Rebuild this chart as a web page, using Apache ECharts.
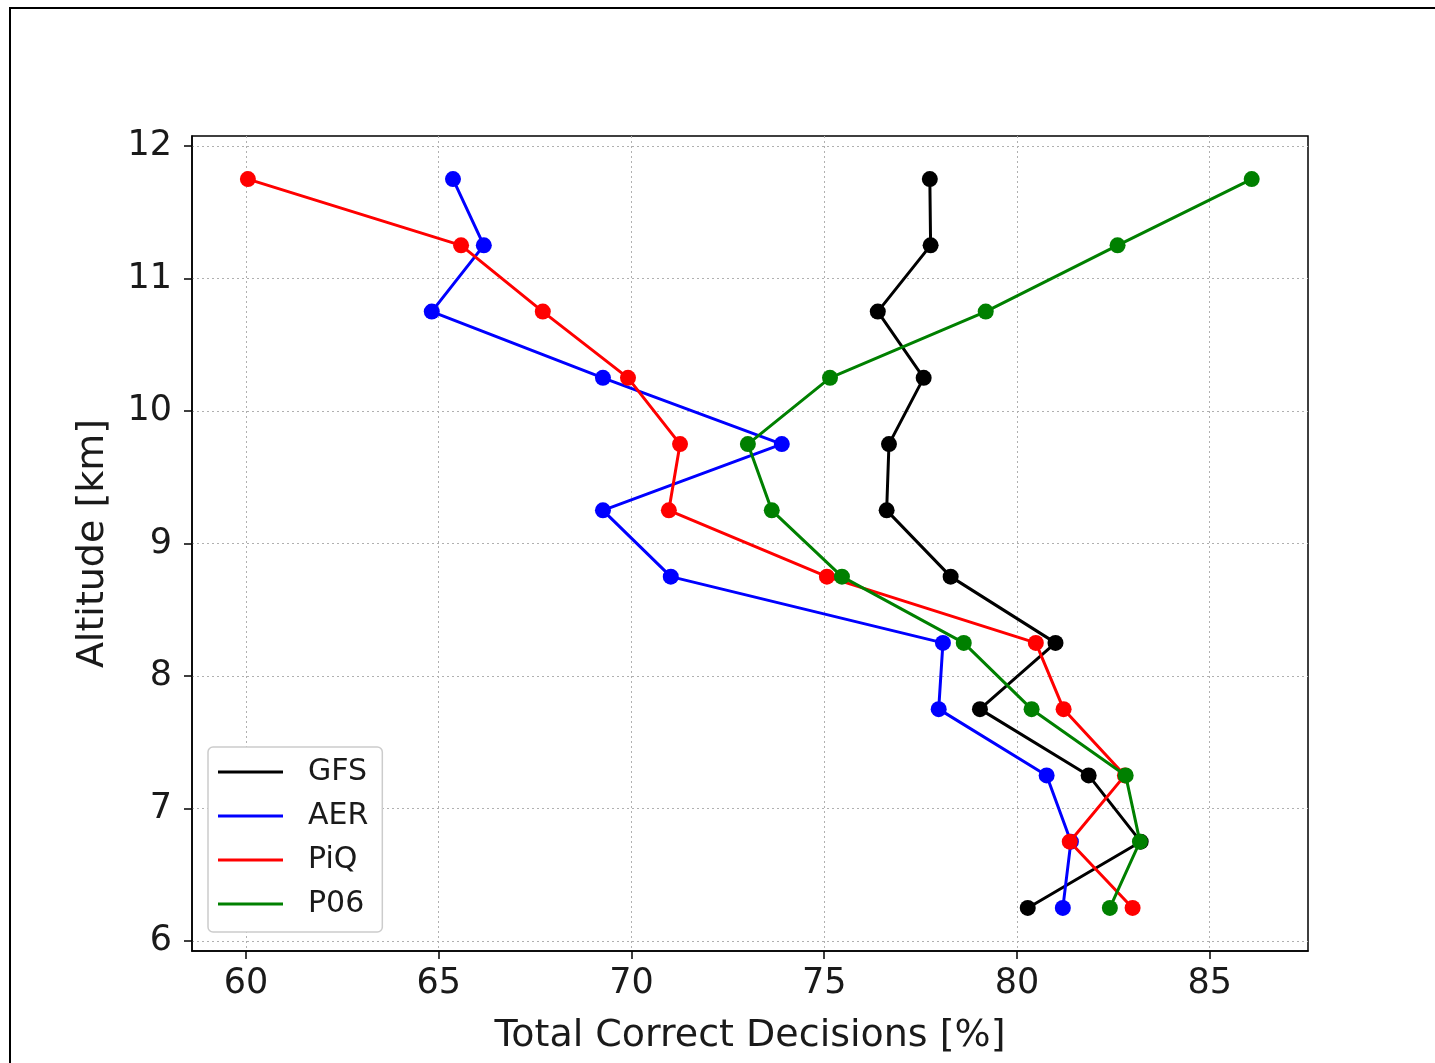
<!DOCTYPE html>
<html>
<head>
<meta charset="utf-8">
<script src="https://cdn.jsdelivr.net/npm/echarts@6/dist/echarts.min.js"></script>
<style>
  html, body { margin: 0; padding: 0; background: #fff; }
  #chart { width: 1435px; height: 1063px; }
</style>
</head>
<body>
<div id="chart"></div>
<script>
// altitude levels (km), top to bottom
var altitudes = [11.75, 11.25, 10.75, 10.25, 9.75, 9.25, 8.75, 8.25, 7.75, 7.25, 6.75, 6.25];

// total correct decisions [%] per model
var gfs = [77.74, 77.76, 76.39, 77.58, 76.68, 76.62, 78.28, 81.0, 79.04, 81.86, 83.21, 80.28];
var aer = [65.37, 66.17, 64.82, 69.26, 73.9, 69.26, 71.02, 78.08, 77.97, 80.77, 81.4, 81.19];
var piq = [60.05, 65.58, 67.7, 69.91, 71.26, 70.97, 75.07, 80.49, 81.21, 82.8, 81.37, 83.0];
var p06 = [86.09, 82.61, 79.19, 75.15, 73.02, 73.64, 75.46, 78.62, 80.38, 82.82, 83.19, 82.41];

var xTicks = [60, 65, 70, 75, 80, 85];
var yTicks = [6, 7, 8, 9, 10, 11, 12];

var seriesNames = ['GFS', 'AER', 'PiQ', 'P06'];
var seriesColors = ['#000000', '#0000ff', '#ff0000', '#008000'];
var seriesValues = [gfs, aer, piq, p06];

var font = 'DejaVu Sans';

function pairs(vals) {
  return vals.map(function (v, i) { return [v, altitudes[i]]; });
}

var chart = echarts.init(document.getElementById('chart'));

chart.setOption({
  animation: false,
  backgroundColor: '#fff',
  graphic: [{
    type: 'rect',
    shape: { x: 10, y: 8, width: 1440, height: 1070 },
    style: { fill: 'none', stroke: '#000', lineWidth: 2 },
    silent: true
  }],
  grid: {
    left: 192, top: 136, right: 127, bottom: 112,
    outerBoundsMode: 'none',
    containLabel: false,
    show: true, borderColor: '#000', borderWidth: 1.5, backgroundColor: 'transparent'
  },
  legend: {
    orient: 'vertical',
    left: 208, top: 747,
    padding: [10, 14, 13, 10],
    backgroundColor: '#fff',
    borderColor: '#cccccc',
    borderWidth: 1.5,
    borderRadius: 5,
    itemWidth: 65,
    itemHeight: 3,
    itemGap: 14,
    icon: 'rect',
    data: seriesNames,
    textStyle: { fontFamily: font, fontSize: 30, color: '#1a1a1a', lineHeight: 30, padding: [0, 0, 0, 20] }
  },
  xAxis: {
    type: 'value',
    min: 58.6, max: 87.55,
    name: 'Total Correct Decisions [%]',
    nameLocation: 'middle',
    nameGap: 66,
    nameTextStyle: { fontFamily: font, fontSize: 38, color: '#1a1a1a' },
    axisLine: { show: true, onZero: false, lineStyle: { color: '#000', width: 1.5 } },
    axisTick: { show: true, length: 8, customValues: xTicks, lineStyle: { color: '#000', width: 1.5 } },
    axisLabel: { customValues: xTicks, fontFamily: font, fontSize: 35, color: '#1a1a1a', margin: 15 },
    splitLine: { show: true, lineStyle: { color: '#b0b0b0', type: [2, 3], width: 1 } }
  },
  yAxis: {
    type: 'value',
    min: 5.925, max: 12.075,
    name: 'Altitude [km]',
    nameLocation: 'middle',
    nameGap: 80,
    nameTextStyle: { fontFamily: font, fontSize: 38, color: '#1a1a1a' },
    axisLine: { show: true, onZero: false, lineStyle: { color: '#000', width: 1.5 } },
    axisTick: { show: true, length: 8, customValues: yTicks, lineStyle: { color: '#000', width: 1.5 } },
    axisLabel: { customValues: yTicks, fontFamily: font, fontSize: 35, color: '#1a1a1a', margin: 20 },
    splitLine: { show: true, lineStyle: { color: '#b0b0b0', type: [2, 3], width: 1 } }
  },
  series: seriesNames.map(function (name, i) {
    return {
      name: name,
      type: 'line',
      data: pairs(seriesValues[i]),
      color: seriesColors[i],
      symbol: 'circle',
      symbolSize: 16,
      showSymbol: true,
      lineStyle: { width: 3, color: seriesColors[i] },
      itemStyle: { color: seriesColors[i] },
      z: 2 + i
    };
  })
});
</script>
</body>
</html>
